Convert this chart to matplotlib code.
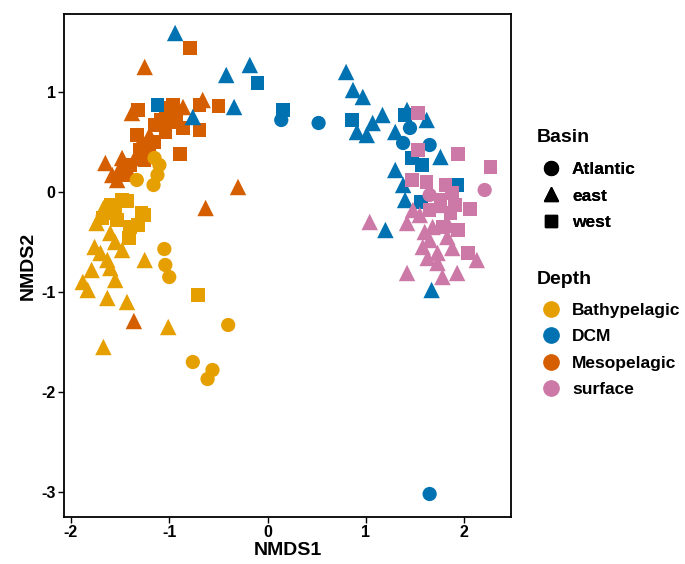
import matplotlib
matplotlib.use("Agg")
import matplotlib.pyplot as plt
from matplotlib.lines import Line2D
import numpy as np

plt.rcParams['font.family'] = ['Liberation Sans', 'DejaVu Sans']
plt.rcParams['font.weight'] = 'bold'
plt.rcParams['axes.unicode_minus'] = False

depth_colors = {
    "Bathypelagic": "#E69F00",
    "DCM": "#0072B2",
    "Mesopelagic": "#D55E00",
    "surface": "#CC79A7",
}
basin_markers = {"Atlantic": "o", "east": "^", "west": "s"}
marker_size = {"o": 105, "^": 140, "s": 95}

# NMDS scores, one small list per depth/basin group
meso_west_x = [-0.79, -0.50, -0.96, -0.93, -0.69, -0.89, -1.32, -1.33, -0.86, -1.09, -1.04,
               -1.15, -1.20, -1.25, -1.40, -1.45, -1.04, -0.97, -1.15, -1.30, -0.69]
meso_west_y = [1.44, 0.86, 0.87, 0.77, 0.62, 0.38, 0.82, 0.57, 0.64, 0.72, 0.60,
               0.50, 0.42, 0.32, 0.27, 0.17, 0.84, 0.70, 0.67, 0.42, 0.87]
meso_east_x = [-1.25, -1.65, -1.38, -0.66, -0.86, -1.48, -1.53, -0.30, -0.63, -1.36,
               -1.09, -1.42, -1.58, -1.28, -1.20, -1.01, -1.50, -1.35]
meso_east_y = [1.25, 0.29, 0.79, 0.92, 0.85, 0.34, 0.12, 0.05, -0.16, -1.29,
               0.74, 0.22, 0.17, 0.52, 0.57, 0.74, 0.24, 0.34]

bathy_atl_x = [-1.33, -1.15, -1.12, -1.16, -1.10, -1.05, -1.04, -1.00, -0.40, -0.76, -0.56, -0.61]
bathy_atl_y = [0.12, 0.34, 0.17, 0.07, 0.27, -0.57, -0.73, -0.85, -1.33, -1.70, -1.78, -1.87]
bathy_west_x = [-1.43, -1.28, -1.68, -1.55, -1.40, -1.32, -1.41, -1.53, -0.71, -1.48, -1.25, -1.60]
bathy_west_y = [-0.09, -0.21, -0.26, -0.21, -0.35, -0.33, -0.46, -0.28, -1.03, -0.08, -0.23, -0.13]
bathy_east_x = [-1.67, -1.76, -1.60, -1.48, -1.70, -1.63, -1.79, -1.60, -1.55, -1.88,
                -1.83, -1.63, -1.43, -1.25, -1.01, -1.67, -1.74, -1.55]
bathy_east_y = [-0.16, -0.55, -0.41, -0.58, -0.61, -0.68, -0.78, -0.76, -0.88, -0.90,
                -0.98, -1.06, -1.10, -0.68, -1.35, -1.55, -0.31, -0.50]

dcm_atl_x = [0.14, 0.52, 1.38, 1.65, 1.45, 1.65]
dcm_atl_y = [0.72, 0.69, 0.49, 0.47, 0.64, -3.02]
dcm_east_x = [-0.94, -0.18, -0.42, -0.34, -0.76, 0.80, 0.87, 0.97, 1.17, 1.07, 1.01,
              0.91, 1.42, 1.62, 1.30, 1.76, 1.30, 1.38, 1.40, 1.20, 1.67]
dcm_east_y = [1.59, 1.27, 1.17, 0.85, 0.75, 1.20, 1.02, 0.95, 0.77, 0.69, 0.57,
              0.60, 0.82, 0.72, 0.60, 0.35, 0.22, 0.07, -0.08, -0.38, -0.98]
dcm_west_x = [-1.12, -0.10, 0.16, 0.86, 1.40, 1.47, 1.57, 1.93, 1.56]
dcm_west_y = [0.87, 1.09, 0.82, 0.72, 0.77, 0.34, 0.27, 0.07, -0.10]

surf_atl_x = [2.21, 1.65]
surf_atl_y = [0.02, -0.03]
surf_west_x = [1.53, 1.94, 2.27, 1.53, 1.47, 1.62, 1.88, 2.06, 1.94, 2.04, 1.78,
               1.86, 1.76, 1.91, 1.65, 1.81]
surf_west_y = [0.79, 0.38, 0.25, 0.42, 0.12, 0.10, -0.01, -0.17, -0.38, -0.61, -0.35,
               -0.21, -0.08, -0.13, -0.18, 0.07]
surf_east_x = [1.04, 1.42, 1.78, 1.93, 2.13, 1.42, 1.48, 1.68, 1.65, 1.58, 1.73,
               1.73, 1.83, 1.55, 1.76, 1.60, 1.88, 1.63, 1.84]
surf_east_y = [-0.30, -0.81, -0.85, -0.81, -0.68, -0.31, -0.18, -0.35, -0.48, -0.55, -0.61,
               -0.71, -0.45, -0.23, -0.13, -0.40, -0.56, -0.66, -0.33]

groups = [
    ("Mesopelagic", "west", meso_west_x, meso_west_y),
    ("Mesopelagic", "east", meso_east_x, meso_east_y),
    ("Bathypelagic", "Atlantic", bathy_atl_x, bathy_atl_y),
    ("Bathypelagic", "west", bathy_west_x, bathy_west_y),
    ("Bathypelagic", "east", bathy_east_x, bathy_east_y),
    ("DCM", "Atlantic", dcm_atl_x, dcm_atl_y),
    ("DCM", "west", dcm_west_x, dcm_west_y),
    ("DCM", "east", dcm_east_x, dcm_east_y),
    ("surface", "Atlantic", surf_atl_x, surf_atl_y),
    ("surface", "west", surf_west_x, surf_west_y),
    ("surface", "east", surf_east_x, surf_east_y),
]

W, H = 685, 564
fig = plt.figure(figsize=(W / 100, H / 100), dpi=100)
ax = fig.add_axes([64 / W, 1 - 517 / H, (511 - 64) / W, (517 - 14) / H])

for depth, basin, xs, ys in groups:
    m = basin_markers[basin]
    ax.scatter(xs, ys, marker=m, s=marker_size[m], c=depth_colors[depth],
               edgecolors='none', zorder=3)

ax.set_xlim(-2.071, 2.478)
ax.set_ylim(-3.25, 1.78)
ax.set_xticks([-2, -1, 0, 1, 2])
ax.set_yticks([-3, -2, -1, 0, 1])
for s in ax.spines.values():
    s.set_linewidth(1.3)
ax.tick_params(direction='out', length=4, width=1, labelsize=11.5, colors='black', pad=2)
ax.set_xlabel("NMDS1", fontsize=14, fontweight='bold', labelpad=1)
ax.set_ylabel("NMDS2", fontsize=14, fontweight='bold', labelpad=3)

basin_handles = [Line2D([], [], ls='none', marker=basin_markers[b], color='black',
                        markersize=10 if b != "west" else 9) for b in basin_markers]
depth_handles = [Line2D([], [], ls='none', marker='o', color=c, markersize=11)
                 for c in depth_colors.values()]

# legend titles as plain text, entries centred on their middle row
fig.text(537 / W, 1 - 137 / H, "Basin", fontsize=14, fontweight='bold', va='center')
fig.text(537 / W, 1 - 279 / H, "Depth", fontsize=14, fontweight='bold', va='center')

legend_kw = dict(loc='center left', frameon=False,
                 prop={'size': 12.5, 'weight': 'bold'},
                 labelspacing=0.66, handletextpad=0.61, handlelength=1.2,
                 borderpad=0, borderaxespad=0)
leg1 = fig.legend(basin_handles, list(basin_markers),
                  bbox_to_anchor=(540.6 / W, 1 - 196 / H), **legend_kw)
leg2 = fig.legend(depth_handles, list(depth_colors),
                  bbox_to_anchor=(540.6 / W, 1 - 350 / H), **legend_kw)
fig.add_artist(leg1)

fig.savefig("out.png", dpi=100)
